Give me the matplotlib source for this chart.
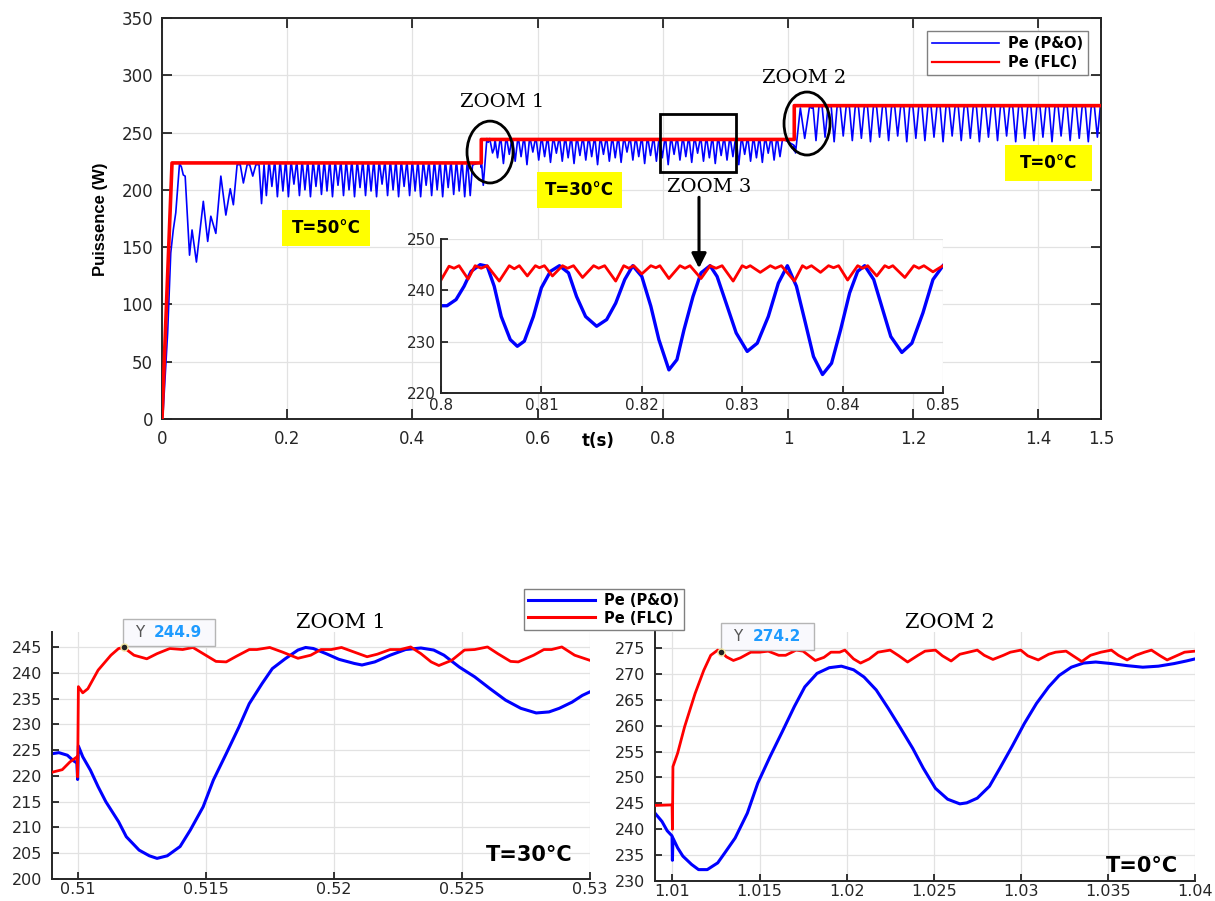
import matplotlib.pyplot as plt
from matplotlib.lines import Line2D
from matplotlib.patches import Ellipse, Rectangle

plt.rcParams['font.family'] = ['DejaVu Sans']

# ---------------- data ----------------
# main plot, FLC
flc_t = [0, 0.016, 0.51, 0.51, 1.01, 1.01, 1.5]
flc_p = [0, 223.5, 223.5, 244, 244, 273.5, 273.5]

# main plot, P&O start-up
po_start = [(0, 0), (0.002, 8), (0.009, 75), (0.014, 145), (0.018, 165), (0.022, 180),
            (0.028, 223), (0.031, 220), (0.034, 213), (0.037, 212), (0.044, 143),
            (0.048, 165), (0.055, 137), (0.066, 190), (0.073, 155), (0.078, 177),
            (0.086, 162), (0.094, 212), (0.102, 178), (0.109, 201), (0.114, 187),
            (0.120, 222), (0.125, 222), (0.130, 206), (0.136, 222), (0.140, 222),
            (0.145, 212), (0.150, 222), (0.155, 222), (0.159, 188)]
# P&O steady ripple: troughs of each dip
troughs_50 = [195, 203, 194, 199, 194, 205, 195, 200, 194, 203, 196, 199, 194, 204,
              195, 200, 194, 202, 195, 199, 194, 205, 195, 200, 194, 203, 195, 199,
              194, 204, 195, 200, 194, 202, 196, 199, 194, 195]
po_step_30 = [(0.5095, 224), (0.51, 219.5), (0.5101, 226), (0.5132, 204), (0.519, 244.8),
              (0.5212, 241.5), (0.5235, 244.8), (0.528, 232.2), (0.5305, 236)]
troughs_30 = [228, 223, 231, 225, 229, 222, 233, 226, 229, 224, 232, 225, 228, 223,
              230, 226, 229, 222, 231, 225, 228, 224, 233, 226, 229, 223, 230, 225,
              228, 222, 231, 226, 229, 224, 232, 225, 228, 223, 230, 226, 229, 222,
              231, 225, 228, 224, 232, 226, 229]
po_step_0 = [(1.0095, 239), (1.01, 234), (1.0101, 238.3), (1.012, 232.2), (1.0197, 271.5),
             (1.0267, 244.9), (1.0343, 272.3), (1.038, 271.3)]
troughs_0 = [243, 246, 242, 247, 243, 245, 242, 246, 243, 247, 242, 245, 243, 246,
             242, 247, 243, 245, 242, 246, 243, 247, 242, 245, 243, 246, 242, 247,
             243, 245, 242, 246]
peaks = {'50': 222, '30': 244.2, '0': 272.8}

# inset ZOOM 3 (0.8 - 0.85 s)
po_inset = [(0.8, 237.0), (0.8006, 237.0), (0.8015, 238.2), (0.8023, 240.8), (0.8030, 243.7),
            (0.8039, 245.0), (0.8046, 244.7), (0.8053, 240.8), (0.8060, 234.9), (0.8069, 230.4),
            (0.8076, 229.1), (0.8083, 230.1), (0.8092, 234.9), (0.8100, 240.5), (0.8109, 243.7),
            (0.8118, 244.8), (0.8127, 243.4), (0.8135, 238.8), (0.8144, 234.9), (0.8155, 233.0),
            (0.8165, 234.3), (0.8174, 237.5), (0.8183, 242.1), (0.8191, 244.8), (0.8200, 242.7),
            (0.8209, 236.9), (0.8217, 230.4), (0.8227, 224.5), (0.8235, 226.5), (0.8242, 232.3),
            (0.8251, 238.8), (0.8259, 243.4), (0.8268, 244.8), (0.8275, 242.7), (0.8284, 237.5),
            (0.8294, 231.7), (0.8305, 228.1), (0.8315, 229.7), (0.8326, 234.9), (0.8336, 241.4),
            (0.8345, 244.8), (0.8354, 240.8), (0.8363, 233.6), (0.8371, 227.1), (0.8380, 223.6),
            (0.8389, 225.8), (0.8398, 232.3), (0.8407, 239.5), (0.8415, 243.7), (0.8422, 244.8),
            (0.8431, 242.1), (0.8440, 236.2), (0.8448, 231.0), (0.8459, 227.9), (0.8469, 229.7),
            (0.8480, 235.6), (0.8490, 242.1), (0.8500, 244.8)]
flc_inset = [(0.8000, 242.0), (0.8008, 244.7), (0.8013, 244.3), (0.8018, 244.8), (0.8027, 242.2),
             (0.8034, 244.8), (0.8040, 244.3), (0.8046, 244.8), (0.8058, 241.8), (0.8068, 244.8),
             (0.8073, 244.2), (0.8078, 244.8), (0.8086, 242.8), (0.8094, 244.8), (0.8098, 244.4),
             (0.8103, 244.8), (0.8111, 242.8), (0.8121, 244.8), (0.8126, 244.3), (0.8132, 244.8),
             (0.8141, 242.5), (0.8152, 244.8), (0.8157, 244.3), (0.8163, 244.8), (0.8174, 241.8),
             (0.8182, 244.8), (0.8187, 244.3), (0.8192, 244.8), (0.8200, 243.2), (0.8209, 244.8),
             (0.8214, 244.4), (0.8218, 244.8), (0.8227, 242.3), (0.8238, 244.8), (0.8243, 244.3),
             (0.8248, 244.8), (0.8259, 242.3), (0.8268, 244.8), (0.8274, 244.3), (0.8280, 244.8),
             (0.8291, 241.8), (0.8300, 244.8), (0.8304, 244.4), (0.8308, 244.8), (0.8318, 243.5),
             (0.8328, 244.8), (0.8333, 244.3), (0.8339, 244.8), (0.8352, 241.8), (0.8360, 244.8),
             (0.8364, 244.3), (0.8369, 244.8), (0.8378, 243.5), (0.8386, 244.8), (0.8391, 244.4),
             (0.8396, 244.8), (0.8405, 242.0), (0.8415, 244.8), (0.8420, 244.3), (0.8425, 244.8),
             (0.8434, 242.8), (0.8442, 244.8), (0.8446, 244.4), (0.8450, 244.8), (0.8462, 242.5),
             (0.8471, 244.8), (0.8476, 244.3), (0.8481, 244.8), (0.8490, 243.6), (0.8500, 244.8)]

# ZOOM 1 panel
po_zoom1 = [(0.509, 224.3), (0.50927, 224.5), (0.5096, 224.0), (0.50982, 223.0), (0.50997, 222.5),
            (0.5100, 219.3), (0.51003, 225.8), (0.5102, 223.7), (0.5105, 221.1), (0.5108, 217.9),
            (0.5111, 215.0), (0.5116, 211.1), (0.5119, 208.2), (0.5124, 205.6), (0.5128, 204.5),
            (0.5131, 204.0), (0.5135, 204.5), (0.5140, 206.3), (0.5144, 209.5), (0.5149, 214.0),
            (0.5153, 219.2), (0.5158, 224.3), (0.5163, 229.5), (0.5167, 234.0), (0.5172, 237.9),
            (0.5176, 240.8), (0.5181, 242.7), (0.5186, 244.4), (0.5189, 244.9), (0.5192, 244.7),
            (0.5197, 243.7), (0.5202, 242.6), (0.5208, 241.8), (0.5211, 241.5), (0.5216, 242.1),
            (0.5222, 243.4), (0.5228, 244.5), (0.5234, 244.8), (0.5239, 244.4), (0.5243, 243.4),
            (0.5249, 241.1), (0.5255, 239.2), (0.5261, 236.9), (0.5267, 234.7), (0.5273, 233.1),
            (0.5279, 232.2), (0.5284, 232.4), (0.5288, 233.1), (0.5293, 234.3), (0.5297, 235.6),
            (0.5300, 236.3)]
flc_zoom1 = [(0.509, 220.7), (0.5094, 221.2), (0.5097, 222.7), (0.50998, 223.7), (0.5100, 219.8),
             (0.51003, 237.3), (0.5102, 236.1), (0.5104, 236.9), (0.5108, 240.5), (0.5113, 243.4),
             (0.5116, 244.7), (0.5118, 244.9), (0.5122, 243.4), (0.5127, 242.7), (0.5131, 243.7),
             (0.5136, 244.7), (0.5141, 244.5), (0.5145, 244.9), (0.5149, 243.7), (0.5154, 242.2),
             (0.5158, 242.1), (0.5162, 243.2), (0.5167, 244.5), (0.5170, 244.5), (0.5175, 244.9),
             (0.5180, 244.0), (0.5186, 242.8), (0.5191, 243.4), (0.5195, 244.5), (0.5199, 244.5),
             (0.5203, 244.9), (0.5208, 244.0), (0.5213, 243.1), (0.5217, 243.6), (0.5222, 244.5),
             (0.5226, 244.5), (0.5230, 245.0), (0.5234, 243.7), (0.5238, 242.1), (0.5241, 241.4),
             (0.5246, 242.4), (0.5251, 244.4), (0.5255, 244.5), (0.5260, 245.0), (0.5264, 243.7),
             (0.5269, 242.2), (0.5272, 242.1), (0.5278, 243.4), (0.5282, 244.5), (0.5285, 244.5),
             (0.5289, 245.0), (0.5294, 243.4), (0.5300, 242.4)]
tip1 = (0.5118, 244.9)

# ZOOM 2 panel
po_zoom2 = [(1.009, 243.1), (1.0094, 241.5), (1.0097, 239.7), (1.00998, 238.7), (1.0100, 234.0),
            (1.01003, 238.3), (1.0103, 236.4), (1.0106, 234.8), (1.0111, 233.2), (1.0115, 232.2),
            (1.0120, 232.2), (1.0126, 233.5), (1.0130, 235.4), (1.0136, 238.3), (1.0143, 243.1),
            (1.0149, 248.9), (1.0156, 254.0), (1.0163, 258.8), (1.0170, 263.7), (1.0176, 267.5),
            (1.0183, 270.1), (1.0190, 271.2), (1.0197, 271.5), (1.0204, 270.8), (1.0210, 269.4),
            (1.0217, 266.9), (1.0224, 263.3), (1.0231, 259.5), (1.0238, 255.6), (1.0244, 251.8),
            (1.0251, 247.9), (1.0258, 245.8), (1.0265, 244.9), (1.0269, 245.1), (1.0275, 246.0),
            (1.0282, 248.3), (1.0288, 251.8), (1.0295, 256.0), (1.0302, 260.4), (1.0309, 264.3),
            (1.0316, 267.5), (1.0322, 269.7), (1.0329, 271.3), (1.0336, 272.1), (1.0343, 272.3),
            (1.0352, 272.0), (1.0361, 271.6), (1.0370, 271.3), (1.0379, 271.5), (1.0388, 272.0),
            (1.0395, 272.5), (1.0400, 272.9)]
flc_zoom2 = [(1.009, 244.6), (1.00998, 244.7), (1.0100, 240.0), (1.01003, 252.1), (1.0103, 254.7),
             (1.0107, 259.8), (1.0113, 266.2), (1.0118, 270.7), (1.0122, 273.6), (1.0126, 274.6),
             (1.0128, 274.3), (1.0131, 273.3), (1.0135, 272.6), (1.0139, 273.1), (1.0145, 274.2),
             (1.0150, 274.2), (1.0155, 274.4), (1.0161, 273.6), (1.0165, 273.6), (1.0171, 274.6),
             (1.0175, 274.4), (1.0182, 272.6), (1.0187, 273.2), (1.0191, 274.2), (1.0196, 274.2),
             (1.0199, 274.6), (1.0204, 272.9), (1.0208, 272.1), (1.0213, 272.9), (1.0218, 274.2),
             (1.0225, 274.6), (1.0230, 273.5), (1.0235, 272.3), (1.0241, 273.6), (1.0245, 274.4),
             (1.0251, 274.6), (1.0255, 273.5), (1.0260, 272.5), (1.0265, 273.8), (1.0270, 274.2),
             (1.0275, 274.6), (1.0279, 273.6), (1.0284, 272.8), (1.0290, 273.6), (1.0294, 274.2),
             (1.0300, 274.6), (1.0304, 273.5), (1.0310, 272.7), (1.0316, 273.8), (1.0320, 274.2),
             (1.0326, 274.4), (1.0330, 273.5), (1.0335, 272.4), (1.0340, 273.6), (1.0346, 274.2),
             (1.0352, 274.6), (1.0356, 273.6), (1.0361, 272.7), (1.0366, 273.6), (1.0371, 274.2),
             (1.0375, 274.6), (1.0380, 273.5), (1.0384, 272.7), (1.0390, 273.6), (1.0394, 274.2),
             (1.0400, 274.4)]
tip2 = (1.0128, 274.2)

BLUE = '#0000ff'
RED = '#ff0000'
INK = '#262626'
GRID = '#e2e2e2'


def ripple(t0, period, peak, troughs, hold):
    # each dip: fall to the trough, climb back, then sit on the peak for `hold` of the period
    t, p = [t0], [peak]
    fall = (1 - hold) / 2
    for i, v in enumerate(troughs):
        ts = t0 + i * period
        t += [ts + fall * period, ts + 2 * fall * period, ts + period]
        p += [v, peak, peak]
    return t, p


def unzip(pairs):
    return [a for a, b in pairs], [b for a, b in pairs]


# assemble main P&O trace
po_t, po_p = unzip(po_start)
for seg in [ripple(0.163, 0.0088, peaks['50'], troughs_50, 0.15), unzip(po_step_30),
            ripple(0.532, 0.0094, peaks['30'], troughs_30, 0.15), unzip(po_step_0),
            ripple(1.040, 0.0145, peaks['0'], troughs_0, 0.35)]:
    po_t += seg[0]
    po_p += seg[1]

W, H = 1215, 901
fig = plt.figure(figsize=(12.15, 9.01), dpi=100)


def fx(px):
    return px / W


def fy(py):
    return 1 - py / H


def style(a, box, size=12, length=6):
    a.grid(True, color=GRID, lw=0.9)
    a.set_axisbelow(True)
    a.tick_params(direction='in', colors='black', labelcolor=INK, labelsize=size,
                  length=length, width=1.1, top=box, right=box)
    for side, s in a.spines.items():
        s.set_color(INK)
        s.set_linewidth(1.4)
        if not box and side in ('top', 'right'):
            s.set_visible(False)


# ---------------- main axes ----------------
ax = fig.add_axes([fx(162), fy(419), (1101 - 162) / W, (419 - 18) / H])
style(ax, True, length=7)
ax.tick_params(axis='y', pad=6.5)
ax.tick_params(axis='x', pad=8)
ax.plot(po_t, po_p, color=BLUE, lw=1.2, zorder=2)
ax.plot(flc_t, flc_p, color=RED, lw=2.6, zorder=3)
ax.set_xlim(0, 1.5)
ax.set_ylim(0, 350)
ax.set_xticks([0, 0.2, 0.4, 0.6, 0.8, 1, 1.2, 1.4, 1.5])
ax.set_xticklabels(['0', '0.2', '0.4', '0.6', '0.8', '1', '1.2', '1.4', '1.5'])
ax.set_yticks(range(0, 351, 50))

ax.legend([Line2D([], [], color=BLUE, lw=1.2), Line2D([], [], color=RED, lw=1.6)],
          ['Pe (P&O)', 'Pe (FLC)'], loc='upper left',
          bbox_to_anchor=(fx(927), fy(31)), bbox_transform=fig.transFigure,
          borderaxespad=0, fancybox=False, edgecolor='#808080', framealpha=1,
          handlelength=4.6, handletextpad=0.6, borderpad=0.35, labelspacing=0.25,
          prop={'weight': 'bold', 'size': 10.5})

# temperature labels
for x0, y0, w, h, txt in [(0.1917, 151.0, 0.1406, 31.4, 'T=50°C'),
                          (0.5990, 184.2, 0.1358, 31.4, 'T=30°C'),
                          (1.3466, 207.7, 0.1390, 31.4, 'T=0°C')]:
    ax.add_patch(Rectangle((x0, y0), w, h, facecolor='#ffff00', edgecolor='none', zorder=4))
    ax.text(x0 + w / 2, y0 + h / 2, txt, ha='center', va='center', weight='bold',
            size=12, zorder=5)

# zoom markers
ax.add_patch(Ellipse((0.524, 233.0), 0.0735, 54, fill=False, lw=2, ec='black', zorder=5))
ax.add_patch(Ellipse((1.0304, 257.9), 0.0735, 55, fill=False, lw=2, ec='black', zorder=5))
ax.add_patch(Rectangle((0.7955, 215.6), 0.1214, 50.6, fill=False, lw=2, ec='black', zorder=5))
serif = {'family': 'DejaVu Serif', 'size': 14}
ax.text(0.543, 276.7, 'ZOOM 1', ha='center', va='center', fontdict=serif)
ax.text(1.0256, 297.6, 'ZOOM 2', ha='center', va='center', fontdict=serif)
ax.text(0.8738, 202.5, 'ZOOM 3', ha='center', va='center', fontdict=serif)

fig.text(fx(598), fy(441), 't(s)', ha='center', va='center', weight='bold', size=12)
fig.text(fx(100), fy(219), 'Puissence (W)', ha='center', va='center', rotation=90,
         weight='bold', size=12, family='Liberation Sans')

# ---------------- inset ----------------
ins = fig.add_axes([fx(441), fy(393), (943 - 441) / W, (393 - 239) / H])
ins.set_facecolor('white')
style(ins, False, size=11, length=5)
ins.tick_params(axis='y', pad=4)
ins.tick_params(axis='x', pad=3.5)
t, p = unzip(po_inset)
ins.plot(t, p, color=BLUE, lw=2.4)
t, p = unzip(flc_inset)
ins.plot(t, p, color=RED, lw=2.0)
ins.set_xlim(0.8, 0.85)
ins.set_ylim(220, 250)
ins.set_xticks([0.8, 0.81, 0.82, 0.83, 0.84, 0.85])
ins.set_xticklabels(['0.8', '0.81', '0.82', '0.83', '0.84', '0.85'])
ins.set_yticks([220, 230, 240, 250])
# arrow from the ZOOM 3 label down into the inset (drawn with the inset so it stays on top)
ins.annotate('', xy=(0.8257, 244.3), xycoords='data', xytext=(0.8578, 193.5),
             textcoords=ax.transData, annotation_clip=False,
             arrowprops=dict(arrowstyle='-|>', color='black', lw=2.2, mutation_scale=22,
                             shrinkA=0, shrinkB=0))

# ---------------- bottom panels ----------------
axl = fig.add_axes([fx(52), fy(879), (590 - 52) / W, (879 - 632) / H])
axr = fig.add_axes([fx(655), fy(881), (1195 - 655) / W, (881 - 632) / H])

for a, po, flc, tip, xl, yl, xt, xtl, yt, title, tx, temp, tempx, tempy, box in [
        (axl, po_zoom1, flc_zoom1, tip1, (0.509, 0.53), (200, 247.9),
         [0.51, 0.515, 0.52, 0.525, 0.53], ['0.51', '0.515', '0.52', '0.525', '0.53'],
         range(200, 246, 5), 'ZOOM 1', fx(341), 'T=30°C', fx(573), fy(855),
         (0.51177, 245.2, 0.00359, 5.2)),
        (axr, po_zoom2, flc_zoom2, tip2, (1.009, 1.04), (230, 278.1),
         [1.01, 1.015, 1.02, 1.025, 1.03, 1.035, 1.04],
         ['1.01', '1.015', '1.02', '1.025', '1.03', '1.035', '1.04'],
         range(230, 276, 5), 'ZOOM 2', fx(950), 'T=0°C', fx(1178), fy(866),
         (1.0128, 274.6, 0.0053, 5.2))]:
    style(a, False, size=11.5, length=5)
    a.tick_params(axis='y', pad=7)
    a.tick_params(axis='x', pad=2)
    t, p = unzip(po)
    a.plot(t, p, color=BLUE, lw=2.2, zorder=2)
    t, p = unzip(flc)
    a.plot(t, p, color=RED, lw=2.0, zorder=3)
    a.set_xlim(*xl)
    a.set_ylim(*yl)
    a.set_xticks(xt)
    a.set_xticklabels(xtl)
    a.set_yticks(list(yt))
    # data tip
    bx, by, bw, bh = box
    a.add_patch(Rectangle((bx, by), bw, bh, facecolor='#f9f9fd', edgecolor='#b5b5b5',
                          lw=1, clip_on=False, zorder=6))
    a.plot([tip[0]], [tip[1]], 'o', ms=5, color='#222222', mec='#f3e6a0', mew=1,
           clip_on=False, zorder=7)
    a.text(bx + bw * 0.18, by + bh / 2, 'Y', ha='center', va='center', size=11,
           color='#555555', zorder=8)
    a.text(bx + bw * 0.60, by + bh / 2, f'{tip[1]:.1f}', ha='center', va='center',
           size=11, weight='bold', color='#1e9bff', zorder=8)
    fig.text(tx, fy(622), title, ha='center', va='center', family='DejaVu Serif', size=15)
    fig.text(tempx, tempy, temp, ha='right', va='center', weight='bold', size=15)

fig.legend([Line2D([], [], color=BLUE, lw=2.2), Line2D([], [], color=RED, lw=2.2)],
           ['Pe (P&O)', 'Pe (FLC)'], loc='upper left',
           bbox_to_anchor=(fx(524), fy(589)), borderaxespad=0, fancybox=False,
           edgecolor='#808080', framealpha=1, handlelength=4.6, handletextpad=0.6,
           borderpad=0.3, labelspacing=0.15, prop={'weight': 'bold', 'size': 10.5})

fig.savefig('out.png', dpi=100)
